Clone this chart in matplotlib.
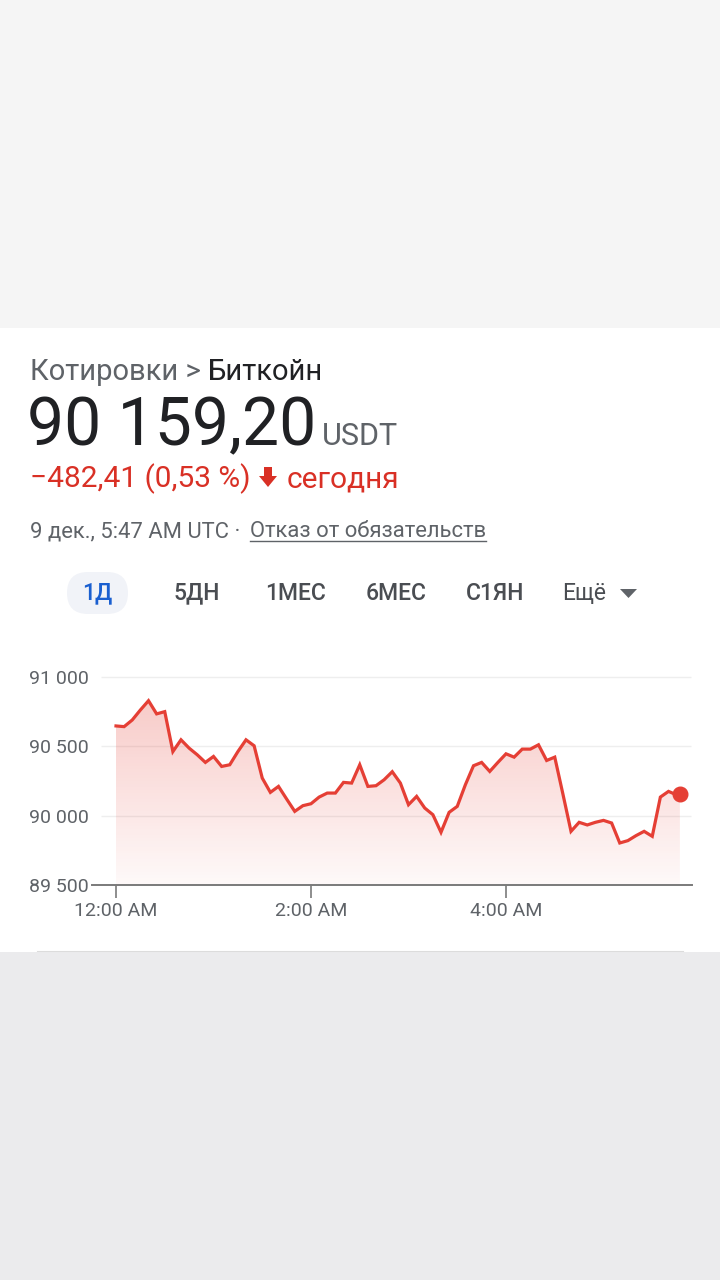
import numpy as np
import matplotlib
matplotlib.use("Agg")
import matplotlib.pyplot as plt
from matplotlib.patches import Rectangle, FancyBboxPatch, Polygon

plt.rcParams['font.family'] = ['Roboto', 'DejaVu Sans']

# price data, minutes after 12:00 AM UTC, 5 min steps
minutes = list(range(0, 350, 5)) + [347]
prices = [90647, 90642, 90690, 90762, 90829, 90734, 90750, 90462, 90547, 90487,
          90439, 90384, 90427, 90355, 90367, 90462, 90547, 90504, 90271, 90168,
          90211, 90120, 90031, 90072, 90086, 90134, 90163, 90163, 90240, 90235,
          90367, 90211, 90216, 90259, 90317, 90235, 90079, 90139, 90055, 90007,
          89880, 90024, 90067, 90223, 90360, 90384, 90319, 90384, 90446, 90422,
          90480, 90480, 90511, 90398, 90422, 90157, 89887, 89952, 89933, 89952,
          89966, 89947, 89803, 89820, 89856, 89887, 89851, 90134, 90175, 90150,
          90159.20]
y_ticks = [89500, 90000, 90500, 91000]
y_labels = ['89 500', '90 000', '90 500', '91 000']
x_ticks = [0, 120, 240]
x_labels = ['12:00 AM', '2:00 AM', '4:00 AM']
tabs = ['1Д', '5ДН', '1МЕС', '6МЕС', 'С1ЯН', 'Ещё']
tab_x = [97, 197, 296, 396, 495, 584]

RED = '#e53f35'
TXT_RED = '#d93025'

W, H = 720, 1280
fig = plt.figure(figsize=(W / 100, H / 100), dpi=100)
renderer = fig.canvas.get_renderer()

# background / overlay in pixel coords
bg = fig.add_axes([0, 0, 1, 1])
bg.set_xlim(0, W)
bg.set_ylim(H, 0)
bg.axis('off')
bg.add_patch(Rectangle((0, 0), W, 328, color='#f5f5f5', lw=0))
bg.add_patch(Rectangle((0, 328), W, 624, color='white', lw=0))
bg.add_patch(Rectangle((0, 952), W, 328, color='#ebebed', lw=0))
bg.plot([37, 683], [951, 951], color='#dcdcdc', lw=0.8)


def right_edge(t):
    return t.get_window_extent(renderer).x1


t1 = bg.text(30, 380, 'Котировки > ', fontsize=21, color='#5f6368', va='baseline')
bg.text(right_edge(t1), 380, 'Биткойн', fontsize=21, color='#202124', va='baseline')
t2 = bg.text(27, 445, '90 159,20', fontsize=47.5, color='#202124', va='baseline')
bg.text(322, 445, 'USDT', fontsize=22, color='#5f6368', va='baseline')
bg.text(30, 487, '−482,41 (0,53 %)', fontsize=21.5, color=TXT_RED, va='baseline')
bg.add_patch(Polygon([[264, 467], [272, 467], [272, 476], [277, 476], [268, 487],
                      [259, 476], [264, 476]], closed=True, color=TXT_RED, lw=0))
bg.text(287, 487, 'сегодня', fontsize=21.5, color=TXT_RED, va='baseline')
bg.text(30, 537, '9 дек., 5:47 AM UTC · ', fontsize=15.8, color='#5f6368', va='baseline')
t3 = bg.text(250, 537, 'Отказ от обязательств', fontsize=15.8, color='#5f6368', va='baseline')
bg.plot([250, right_edge(t3)], [541, 541], color='#5f6368', lw=1)

bg.add_patch(FancyBboxPatch((67, 572), 61, 42, boxstyle='round,pad=0,rounding_size=21',
                            color='#f1f3f8', lw=0))
for i, (lab, tx) in enumerate(zip(tabs, tab_x)):
    col = '#1a5fd0' if i == 0 else '#4a4d52'
    wt = 'medium' if i < 5 else 'normal'
    bg.text(tx, 593, lab, fontsize=16.5, color=col, ha='center', va='center', fontweight=wt)
bg.add_patch(Polygon([[620, 589], [637, 589], [628.5, 598]], closed=True, color='#5f6368', lw=0))

# chart axes: px 92..692 wide, 655..885 high
ax = fig.add_axes([92 / W, 1 - 885 / H, 600 / W, 230 / H])
ax.set_xlim(-14.77, 354.46)
ax.set_ylim(89500, 91158.6)
ax.patch.set_alpha(0)

for v in y_ticks[1:]:
    ax.hlines(v, -9, 354, color='#eeeeee', lw=1, zorder=0)

fill = ax.fill_between(minutes, prices, 89500, color='none', lw=0)
grad = np.zeros((256, 1, 4))
grad[:, 0, 0] = 0.90
grad[:, 0, 1] = 0.25
grad[:, 0, 2] = 0.21
grad[:, 0, 3] = np.linspace(0.03, 0.27, 256)
img = ax.imshow(grad, extent=[0, 347, 89500, 90830], origin='lower', aspect='auto', zorder=1)
img.set_clip_path(fill.get_paths()[0], transform=ax.transData)

ax.plot(minutes, prices, color=RED, lw=2.3, zorder=3, solid_joinstyle='miter')
ax.plot(minutes[-1], prices[-1], 'o', color=RED, ms=10.5, zorder=4)

for s in ['top', 'right', 'left']:
    ax.spines[s].set_visible(False)
ax.spines['bottom'].set_color('#7a7a7a')
ax.spines['bottom'].set_linewidth(1.4)

ax.set_xticks(x_ticks)
ax.set_xticklabels(x_labels)
ax.tick_params(axis='x', length=9, width=1.2, color='#7a7a7a', labelsize=14,
               labelcolor='#5f6368', pad=3)
ax.set_yticks(y_ticks)
ax.set_yticklabels(y_labels)
ax.tick_params(axis='y', length=0, labelsize=14, labelcolor='#5f6368', pad=2)

fig.savefig('out.png', dpi=100)
